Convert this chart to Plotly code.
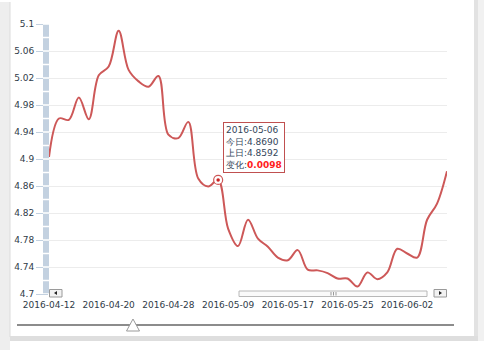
import plotly.graph_objects as go

dates = ["2016-04-12", "2016-04-13", "2016-04-14", "2016-04-15", "2016-04-18",
         "2016-04-19", "2016-04-20", "2016-04-21", "2016-04-22", "2016-04-25",
         "2016-04-26", "2016-04-27", "2016-04-28", "2016-04-29", "2016-05-03",
         "2016-05-04", "2016-05-05", "2016-05-06", "2016-05-09", "2016-05-10",
         "2016-05-11", "2016-05-12", "2016-05-13", "2016-05-16", "2016-05-17",
         "2016-05-18", "2016-05-19", "2016-05-20", "2016-05-23", "2016-05-24",
         "2016-05-25", "2016-05-26", "2016-05-27", "2016-05-30", "2016-05-31",
         "2016-06-01", "2016-06-02", "2016-06-03", "2016-06-06", "2016-06-07",
         "2016-06-08"]
values = [4.903, 4.960, 4.958, 4.991, 4.959,
          5.024, 5.037, 5.090, 5.032, 5.015,
          5.007, 5.023, 4.936, 4.931, 4.955,
          4.871, 4.8592, 4.8690, 4.797, 4.771,
          4.810, 4.782, 4.770, 4.754, 4.750,
          4.765, 4.736, 4.735, 4.731, 4.723,
          4.723, 4.711, 4.732, 4.722, 4.732,
          4.767, 4.760, 4.754, 4.810, 4.834,
          4.882]
x_tick_labels = ["2016-04-12", "2016-04-20", "2016-04-28", "2016-05-09",
                 "2016-05-17", "2016-05-25", "2016-06-02"]
y_tick_vals = [4.7, 4.74, 4.78, 4.82, 4.86, 4.9, 4.94, 4.98, 5.02, 5.06, 5.1]
y_tick_text = ["4.7", "4.74", "4.78", "4.82", "4.86", "4.9", "4.94", "4.98", "5.02", "5.06", "5.1"]
highlight_date = "2016-05-06"

W, H = 489, 350
L, R, T, B = 49, 447, 24, 294
PW, PH = R - L, B - T


def px(x):
    return (x - L) / PW


def py(y):
    return (B - y) / PH


LINE = "#cd5858"
FONT = "DejaVu Sans"

hi = dates.index(highlight_date)
today, prev = values[hi], values[hi - 1]
change = today - prev

fig = go.Figure()
fig.add_trace(go.Scatter(x=dates, y=values, mode="lines",
                         line=dict(color=LINE, width=2, shape="spline", smoothing=1),
                         hoverinfo="skip", showlegend=False))
fig.add_trace(go.Scatter(x=[dates[hi]], y=[today], mode="markers",
                         marker=dict(size=9, color="white", line=dict(color=LINE, width=1.2)),
                         hoverinfo="skip", showlegend=False))
fig.add_trace(go.Scatter(x=[dates[hi]], y=[today], mode="markers",
                         marker=dict(size=3.5, color="#cc2222"),
                         hoverinfo="skip", showlegend=False))

shapes = []
# frame decorations
shapes.append(dict(type="rect", xref="paper", yref="paper", x0=px(0), x1=px(10), y0=py(350), y1=py(2),
                   fillcolor="#eeeeee", line=dict(width=0), layer="below"))
shapes.append(dict(type="line", xref="paper", yref="paper", x0=px(10), x1=px(10), y0=py(337), y1=py(2),
                   line=dict(color="#dcdcdc", width=1), layer="below"))
shapes.append(dict(type="rect", xref="paper", yref="paper", x0=px(474), x1=px(478), y0=py(341), y1=py(0),
                   fillcolor="#e2e2e2", line=dict(width=0), layer="below"))
shapes.append(dict(type="rect", xref="paper", yref="paper", x0=px(478), x1=px(484), y0=py(341), y1=py(0),
                   fillcolor="#f1f1f1", line=dict(width=0), layer="below"))
shapes.append(dict(type="rect", xref="paper", yref="paper", x0=px(10), x1=px(478), y0=py(341), y1=py(336),
                   fillcolor="#dedede", line=dict(width=0), layer="below"))
# blue vertical bar
shapes.append(dict(type="rect", xref="paper", yref="paper", x0=px(43), x1=px(49), y0=0, y1=1,
                   fillcolor="#c3d1e0", line=dict(width=0), layer="above"))
k = 0
while k <= 20:
    v = 4.7 + 0.02 * k
    shapes.append(dict(type="line", xref="paper", yref="y", x0=px(43), x1=px(49), y0=v, y1=v,
                       line=dict(color="white", width=1.5), layer="above"))
    k += 1
# scrollbar thumb
shapes.append(dict(type="rect", xref="paper", yref="paper", x0=px(239), x1=px(427), y0=py(296.5), y1=py(291),
                   fillcolor="#fafafa", line=dict(color="#b8b8b8", width=1), layer="above"))
for gx in (331, 333.5, 336):
    shapes.append(dict(type="line", xref="paper", yref="paper", x0=px(gx), x1=px(gx), y0=py(295.5), y1=py(292),
                       line=dict(color="#999999", width=1), layer="above"))
# scroll buttons
shapes.append(dict(type="rect", xref="paper", yref="paper", x0=px(49.5), x1=px(62), y0=py(297), y1=py(289.5),
                   fillcolor="#f2f2f2", line=dict(color="#9a9a9a", width=1), layer="above"))
shapes.append(dict(type="path", xref="paper", yref="paper",
                   path="M %f %f L %f %f L %f %f Z" % (px(54), py(293), px(57), py(291), px(57), py(295)),
                   fillcolor="#222222", line=dict(width=0), layer="above"))
shapes.append(dict(type="rect", xref="paper", yref="paper", x0=px(434), x1=px(446.5), y0=py(297), y1=py(289.5),
                   fillcolor="#f2f2f2", line=dict(color="#9a9a9a", width=1), layer="above"))
shapes.append(dict(type="path", xref="paper", yref="paper",
                   path="M %f %f L %f %f L %f %f Z" % (px(442), py(293), px(439), py(291), px(439), py(295)),
                   fillcolor="#222222", line=dict(width=0), layer="above"))
# bottom slider
shapes.append(dict(type="line", xref="paper", yref="paper", x0=px(17), x1=px(454), y0=py(325), y1=py(325),
                   line=dict(color="#8c8c8c", width=2), layer="above"))
shapes.append(dict(type="path", xref="paper", yref="paper",
                   path="M %f %f L %f %f L %f %f Z" % (px(133), py(319), px(126.5), py(331), px(139.5), py(331)),
                   fillcolor="white", line=dict(color="#9a9a9a", width=1), layer="above"))

tip = ("%s<br>今日:%.4f<br>上日:%.4f<br>变化:<b><span style='color:#ff2020'>%.4f</span></b>"
       % (dates[hi], today, prev, change))

fig.update_layout(
    width=W, height=H,
    margin=dict(l=L, r=W - R, t=T, b=H - B, pad=0),
    paper_bgcolor="white", plot_bgcolor="white",
    shapes=shapes,
    xaxis=dict(type="category", range=[0, len(dates) - 1], tickvals=x_tick_labels, ticktext=x_tick_labels,
               showgrid=False, zeroline=False, showline=False, ticks="outside", ticklen=2,
               tickcolor="rgba(0,0,0,0)",
               tickfont=dict(family=FONT, size=9, color="#2f3b48")),
    yaxis=dict(range=[4.7, 5.1], tickvals=y_tick_vals, ticktext=y_tick_text,
               showgrid=True, gridcolor="#ececec", gridwidth=1, zeroline=False, showline=False,
               ticks="outside", ticklen=12, tickcolor="#c3d1e0",
               tickfont=dict(family=FONT, size=9, color="#2f3b48")),
    annotations=[dict(xref="paper", yref="paper", x=px(223), y=py(122), xanchor="left", yanchor="top",
                      text=tip, showarrow=False, align="left", bgcolor="white",
                      bordercolor="#c05050", borderwidth=1, borderpad=2,
                      font=dict(family=FONT, size=9, color="#34465a"))],
)

fig.write_html("out.html")
